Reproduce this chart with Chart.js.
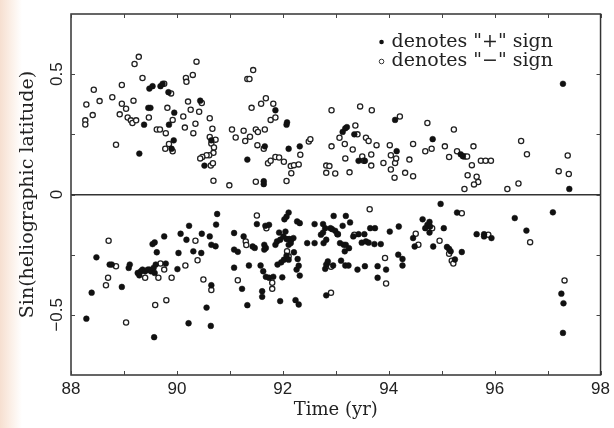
<!DOCTYPE html>
<html>
<head>
<meta charset="utf-8">
<script src="https://cdn.jsdelivr.net/npm/chart.js@4.4.0/dist/chart.umd.min.js"></script>
<style>
  html, body { margin: 0; padding: 0; }
  body {
    width: 614px;
    height: 428px;
    background: linear-gradient(to right, #f6dfd0 0px, #fbeee5 10px, #ffffff 22px);
  }
</style>
</head>
<body>
<canvas id="latChart" width="614" height="428"></canvas>
<script>
// Filled circles: "+" sign  [year (19xx), sin(latitude)]
const plusPoints = [
  [89.29, 0.17], [89.38, 0.29], [89.46, 0.36], [89.50, 0.36], [89.48, 0.44], [89.54, 0.45],
  [89.69, 0.45], [89.73, 0.46], [89.84, 0.425], [89.85, 0.29], [89.95, 0.34], [89.94, 0.225],
  [89.90, 0.19], [90.44, 0.39], [90.65, 0.225], [90.52, 0.12], [91.33, 0.145], [91.64, 0.043],
  [91.64, 0.055], [91.66, 0.20], [91.86, 0.35], [92.07, 0.29], [92.08, 0.30], [92.11, 0.19],
  [92.32, 0.20], [93.13, 0.26], [93.18, 0.275], [93.21, 0.28], [93.35, 0.25], [93.43, 0.14],
  [93.55, 0.14], [94.12, 0.31], [94.15, 0.18], [94.83, 0.23], [95.36, 0.167], [95.40, 0.159],
  [97.29, 0.46], [97.41, 0.023],
  [88.29, -0.516], [88.39, -0.408], [88.48, -0.261], [88.73, -0.291], [88.77, -0.291], [88.96, -0.384],
  [89.09, -0.305], [89.11, -0.291], [89.26, -0.326], [89.29, -0.336], [89.32, -0.319], [89.35, -0.312],
  [89.40, -0.319], [89.45, -0.312], [89.48, -0.312], [89.51, -0.319], [89.56, -0.305], [89.58, -0.326],
  [89.60, -0.291], [89.54, -0.206], [89.58, -0.199], [89.62, -0.24], [89.76, -0.174], [89.79, -0.287],
  [89.57, -0.593], [90.01, -0.31], [90.03, -0.243], [90.07, -0.163], [90.18, -0.188], [90.23, -0.13],
  [90.31, -0.236], [90.46, -0.243], [90.47, -0.163], [90.56, -0.47], [90.22, -0.535], [90.64, -0.546],
  [90.62, -0.174], [90.65, -0.209], [90.65, -0.377], [90.73, -0.215], [90.74, -0.125], [90.76, -0.081],
  [91.08, -0.16], [91.08, -0.229], [91.15, -0.238], [91.08, -0.304], [91.23, -0.392], [91.33, -0.46],
  [91.26, -0.174], [91.36, -0.295],
  [91.51, -0.123], [92.11, -0.075], [92.07, -0.092], [92.03, -0.103], [92.27, -0.112], [92.32, -0.119],
  [92.60, -0.123], [92.76, -0.123], [92.80, -0.14], [92.96, -0.089], [93.19, -0.089], [93.27, -0.116],
  [92.93, -0.144], [92.99, -0.151], [93.03, -0.165], [93.13, -0.13], [93.33, -0.174], [93.43, -0.165],
  [93.54, -0.165], [93.65, -0.14], [93.74, -0.14], [93.49, -0.20], [93.57, -0.195], [93.62, -0.20],
  [93.73, -0.206], [93.85, -0.206], [94.02, -0.154], [94.19, -0.133], [94.46, -0.181], [94.49, -0.216],
  [94.64, -0.103], [94.18, -0.25], [94.26, -0.268], [94.26, -0.295], [93.79, -0.298], [93.95, -0.312],
  [93.79, -0.346], [93.41, -0.312], [93.55, -0.298], [92.80, -0.309], [92.82, -0.291], [92.85, -0.278],
  [93.10, -0.275], [93.18, -0.295], [93.24, -0.295], [92.95, -0.295], [92.82, -0.419], [92.24, -0.439],
  [92.30, -0.457], [91.95, -0.443], [91.61, -0.402], [91.61, -0.425], [91.68, -0.342], [91.74, -0.346],
  [91.82, -0.342], [91.99, -0.344], [92.32, -0.337], [92.26, -0.312], [92.30, -0.296], [92.28, -0.268],
  [91.58, -0.295], [91.63, -0.319], [91.90, -0.291], [91.97, -0.282], [92.02, -0.271], [92.07, -0.254],
  [92.11, -0.271], [92.21, -0.24], [91.65, -0.209], [91.68, -0.222], [91.65, -0.229], [91.86, -0.209],
  [91.89, -0.195], [91.95, -0.188], [92.01, -0.174], [92.07, -0.185], [92.12, -0.185], [92.16, -0.188],
  [92.20, -0.181], [92.15, -0.202], [92.11, -0.209], [91.93, -0.158], [92.05, -0.154], [91.47, -0.222],
  [91.43, -0.216], [91.67, -0.13], [91.74, -0.126], [92.46, -0.202], [92.60, -0.202], [92.72, -0.167],
  [92.76, -0.158], [92.82, -0.188], [92.77, -0.202], [93.08, -0.202], [93.15, -0.209], [93.19, -0.209],
  [93.25, -0.223], [93.17, -0.236], [92.90, -0.14],
  [94.98, -0.039], [94.77, -0.114], [94.73, -0.126], [94.78, -0.133], [94.69, -0.14], [94.77, -0.158],
  [95.04, -0.14], [94.84, -0.216], [95.10, -0.218], [95.14, -0.226], [95.17, -0.236], [95.25, -0.27],
  [95.29, -0.075], [95.38, -0.239], [95.66, -0.165], [95.80, -0.165], [95.80, -0.174], [95.94, -0.181],
  [96.38, -0.098], [96.60, -0.15], [97.10, -0.074], [97.26, -0.412], [97.30, -0.452], [97.29, -0.575]
];

// Open circles: "-" sign
const minusPoints = [
  [88.27, 0.308], [88.27, 0.291], [88.29, 0.374], [88.43, 0.435], [88.41, 0.33], [88.54, 0.388],
  [88.78, 0.404], [88.85, 0.207], [88.92, 0.333], [88.96, 0.377], [88.96, 0.455], [89.04, 0.356],
  [89.07, 0.32], [89.13, 0.308], [89.16, 0.297], [89.23, 0.308], [89.18, 0.39], [89.20, 0.542],
  [89.28, 0.572], [89.35, 0.484], [89.47, 0.32], [89.62, 0.27], [89.68, 0.27], [89.79, 0.255],
  [89.76, 0.46], [89.89, 0.42], [89.82, 0.36], [89.92, 0.31], [89.78, 0.19], [89.92, 0.18],
  [89.85, 0.21], [90.12, 0.324], [90.15, 0.278], [90.17, 0.484], [90.18, 0.468], [90.30, 0.497],
  [90.37, 0.552], [90.21, 0.386], [90.26, 0.352], [90.31, 0.255], [90.35, 0.294], [90.47, 0.38],
  [90.42, 0.344], [90.62, 0.317], [90.67, 0.273], [90.62, 0.239], [90.65, 0.212], [90.73, 0.228],
  [90.70, 0.195], [90.69, 0.173], [90.61, 0.163], [90.56, 0.163], [90.48, 0.156], [90.44, 0.15],
  [90.64, 0.12], [90.68, 0.13], [90.69, 0.057], [90.99, 0.038], [91.04, 0.27], [91.11, 0.237],
  [91.26, 0.265], [91.29, 0.222], [91.38, 0.24],
  [91.44, 0.517], [91.33, 0.48], [91.37, 0.48], [91.41, 0.36], [91.59, 0.377], [91.68, 0.40],
  [91.82, 0.377], [91.77, 0.31], [91.86, 0.32], [91.49, 0.27], [91.53, 0.26], [91.66, 0.27],
  [91.52, 0.205], [91.64, 0.19], [91.72, 0.13], [91.77, 0.14], [91.86, 0.156], [91.93, 0.154],
  [92.02, 0.136], [92.15, 0.118], [92.21, 0.122], [92.30, 0.125], [92.16, 0.088], [92.07, 0.056],
  [91.49, 0.053], [92.49, 0.22], [92.52, 0.23], [92.33, 0.165], [92.92, 0.35], [92.92, 0.20],
  [92.82, 0.12], [92.88, 0.118], [92.82, 0.09], [92.99, 0.087], [93.26, 0.092], [93.18, 0.15],
  [93.07, 0.236], [93.32, 0.187], [93.37, 0.287], [93.46, 0.366], [93.68, 0.35], [93.57, 0.236],
  [93.62, 0.222], [93.77, 0.205], [93.67, 0.166], [93.50, 0.158], [93.53, 0.14], [93.67, 0.12],
  [93.90, 0.131], [94.02, 0.205], [94.04, 0.163], [94.12, 0.131], [94.14, 0.15], [94.04, 0.104],
  [94.11, 0.07], [94.21, 0.324], [94.39, 0.145], [94.31, 0.09], [94.46, 0.076], [94.46, 0.21],
  [93.41, 0.25], [93.17, 0.21],
  [94.73, 0.297], [95.23, 0.27], [96.50, 0.222], [94.69, 0.18], [94.81, 0.19], [95.06, 0.20],
  [95.14, 0.156], [95.29, 0.18], [95.44, 0.158], [95.48, 0.158], [95.60, 0.20], [95.57, 0.122],
  [95.74, 0.14], [95.83, 0.14], [95.93, 0.14], [95.49, 0.08], [95.66, 0.074], [95.69, 0.052],
  [95.61, 0.042], [95.43, 0.023], [96.24, 0.023], [96.45, 0.046], [96.61, 0.167], [97.21, 0.097],
  [97.40, 0.085], [97.38, 0.162],
  [88.71, -0.192], [88.85, -0.298], [88.70, -0.346], [88.66, -0.377], [89.04, -0.532], [89.40, -0.346],
  [89.65, -0.346], [89.69, -0.287], [89.76, -0.312], [89.90, -0.346], [89.59, -0.459], [89.80, -0.439],
  [90.16, -0.295], [90.35, -0.192], [90.39, -0.273], [90.50, -0.353], [90.65, -0.397], [91.30, -0.195],
  [91.31, -0.21], [91.15, -0.356], [91.51, -0.087], [91.69, -0.14], [91.80, -0.367], [91.80, -0.392],
  [92.08, -0.236], [92.11, -0.257], [93.04, -0.165], [92.91, -0.30], [92.91, -0.408], [93.64, -0.061],
  [93.35, -0.167], [93.93, -0.264], [93.95, -0.37], [94.51, -0.163], [94.56, -0.209],
  [94.82, -0.14], [94.96, -0.192], [95.14, -0.246], [95.19, -0.275], [95.22, -0.287], [95.38, -0.078],
  [95.88, -0.167], [96.67, -0.198], [97.32, -0.357]
];

// Axis ticks
const xTicks = [88, 90, 92, 94, 96, 98];
const xMinorTicks = [88, 89, 90, 91, 92, 93, 94, 95, 96, 97, 98];
const yTicks = [-0.5, 0, 0.5];
const yTickLabels = ["\u22120.5", "0", "0.5"];
const yMinorTicks = [-0.5, -0.25, 0, 0.25, 0.5];

const legendRows = [
  { text: 'denotes "+" sign', filled: true },
  { text: 'denotes "\u2212" sign', filled: false }
];

const inkColor = "#222222";

// Frame + inward tick marks, like the original plot
const framePlugin = {
  id: "frame",
  afterDraw(chart) {
    const { ctx, chartArea: a, scales } = chart;
    ctx.save();
    ctx.strokeStyle = "#333333";
    ctx.lineWidth = 1.5;
    ctx.strokeRect(a.left, a.top, a.right - a.left, a.bottom - a.top);

    ctx.lineWidth = 1;
    ctx.strokeStyle = "#444444";
    const len = 4;
    xMinorTicks.forEach((v) => {
      const px = Math.round(scales.x.getPixelForValue(v)) + 0.5;
      ctx.beginPath();
      ctx.moveTo(px, a.bottom);
      ctx.lineTo(px, a.bottom - len);
      ctx.moveTo(px, a.top);
      ctx.lineTo(px, a.top + len);
      ctx.stroke();
    });
    yMinorTicks.forEach((v) => {
      const py = Math.round(scales.y.getPixelForValue(v)) + 0.5;
      ctx.beginPath();
      ctx.moveTo(a.left, py);
      ctx.lineTo(a.left + len, py);
      ctx.moveTo(a.right, py);
      ctx.lineTo(a.right - len, py);
      ctx.stroke();
    });
    ctx.restore();
  },
};

// Legend drawn inside the plot, top right
const legendPlugin = {
  id: "innerLegend",
  afterDraw(chart) {
    const { ctx, chartArea: a } = chart;
    ctx.save();
    ctx.font = "19px 'DejaVu Serif'";
    ctx.textBaseline = "middle";
    legendRows.forEach((row, i) => {
      const mx = a.right - 219;
      const my = a.top + 28 + i * 19.5;
      ctx.beginPath();
      ctx.arc(mx, my, 2.3, 0, Math.PI * 2);
      if (row.filled) {
        ctx.fillStyle = "#111111";
        ctx.fill();
      } else {
        ctx.strokeStyle = "#333333";
        ctx.lineWidth = 1;
        ctx.stroke();
      }
      ctx.fillStyle = inkColor;
      ctx.fillText(row.text, mx + 10, my);
    });
    ctx.restore();
  },
};

const ctx = document.getElementById("latChart").getContext("2d");

const myChart = new Chart(ctx, {
  type: "scatter",
  data: {
    datasets: [
      {
        label: "+ sign",
        data: plusPoints.map((p) => ({ x: p[0], y: p[1] })),
        pointRadius: 2.9,
        pointBackgroundColor: "#111111",
        pointBorderColor: "#111111",
        pointBorderWidth: 0.5,
      },
      {
        label: "- sign",
        data: minusPoints.map((p) => ({ x: p[0], y: p[1] })),
        pointRadius: 2.6,
        pointBackgroundColor: "#ffffff",
        pointBorderColor: "#222222",
        pointBorderWidth: 1.3,
      },
    ],
  },
  options: {
    responsive: false,
    animation: false,
    devicePixelRatio: 1,
    layout: {
      padding: { left: 0, right: 11, top: 14, bottom: 0 },
    },
    scales: {
      x: {
        type: "linear",
        min: 88,
        max: 98,
        afterBuildTicks: (scale) => {
          scale.ticks = xTicks.map((v) => ({ value: v }));
        },
        afterFit: (scale) => {
          scale.height = 53;
        },
        border: { display: false },
        grid: { display: false, drawTicks: false },
        ticks: {
          color: inkColor,
          font: { family: "'Liberation Sans'", size: 17 },
          padding: 4,
          maxRotation: 0,
        },
        title: {
          display: true,
          text: "Time (yr)",
          color: inkColor,
          font: { family: "'DejaVu Serif'", size: 18 },
          padding: { top: 0, bottom: 7 },
        },
      },
      y: {
        min: -0.75,
        max: 0.75,
        afterBuildTicks: (scale) => {
          scale.ticks = yTicks.map((v) => ({ value: v }));
        },
        afterFit: (scale) => {
          scale.width = 71;
        },
        border: { display: false },
        grid: {
          drawTicks: false,
          lineWidth: 1.5,
          color: (c) => (c.tick && c.tick.value === 0 ? "#333333" : "rgba(0,0,0,0)"),
        },
        ticks: {
          color: inkColor,
          font: { family: "'Liberation Sans'", size: 17 },
          minRotation: 90,
          maxRotation: 90,
          crossAlign: "center",
          padding: -3,
          callback: (value) => yTickLabels[yTicks.indexOf(value)],
        },
        title: {
          display: true,
          text: "Sin(heliographic latitude)",
          color: inkColor,
          font: { family: "'DejaVu Serif'", size: 19 },
          padding: { top: 17, bottom: 0 },
        },
      },
    },
    plugins: {
      legend: { display: false },
      tooltip: { enabled: false },
    },
  },
  plugins: [framePlugin, legendPlugin],
});
</script>
</body>
</html>
